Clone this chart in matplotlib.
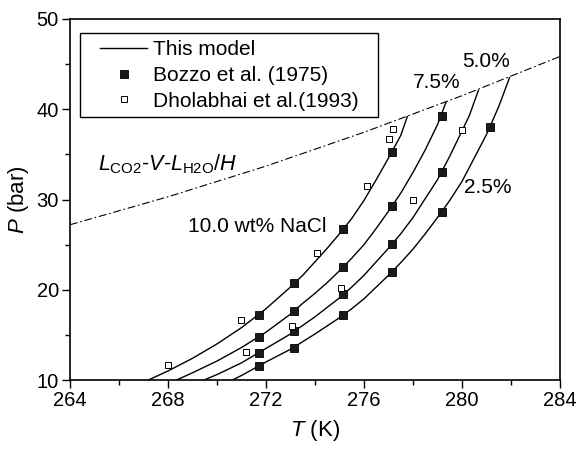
import matplotlib
matplotlib.use("Agg")
import matplotlib.pyplot as plt
from matplotlib.patches import Rectangle

plt.rcParams['font.family'] = ['Liberation Sans', 'DejaVu Sans']
plt.rcParams['mathtext.fontset'] = 'custom'
plt.rcParams['mathtext.it'] = 'Liberation Sans:italic'
plt.rcParams['mathtext.rm'] = 'Liberation Sans'

# model curves (T in K, P in bar)
t_10 = [267.2, 268, 269, 270, 271, 272, 273, 273.5, 274, 274.5, 275, 275.5, 276, 276.5, 277, 277.5, 277.77]
p_10 = [10.0, 11.0, 12.4, 14.0, 15.8, 17.9, 20.3, 21.6, 23.1, 24.6, 26.2, 27.9, 29.9, 32.2, 34.6, 37.1, 39.2]
t_75 = [268.35, 269, 270, 271, 272, 273, 273.5, 274, 274.5, 275, 275.5, 276, 276.5, 277, 277.5, 278, 278.5, 279, 279.35]
p_75 = [10.0, 10.8, 12.1, 13.6, 15.3, 17.3, 18.5, 19.6, 20.8, 22.1, 23.5, 25.0, 26.8, 28.7, 30.7, 33.0, 35.5, 38.3, 40.8]
t_50 = [269.47, 270, 271, 272, 273, 274, 274.5, 275, 275.5, 276, 276.5, 277, 277.5, 278, 278.5, 279, 279.5, 280, 280.3, 280.67]
p_50 = [10.0, 10.6, 11.9, 13.5, 15.1, 17.0, 18.05, 19.1, 20.3, 21.6, 23.1, 24.6, 26.2, 28.0, 30.1, 32.2, 34.8, 37.6, 39.3, 42.1]
t_25 = [270.63, 271, 272, 273, 274, 275, 275.5, 276, 276.5, 277, 277.5, 278, 278.5, 279, 279.5, 280, 280.5, 281, 281.5, 281.94]
p_25 = [10.0, 10.5, 12.0, 13.4, 15.1, 16.9, 17.9, 19.0, 20.3, 21.6, 23.0, 24.5, 26.2, 28.0, 29.9, 32.0, 34.6, 37.2, 40.3, 43.5]

# three-phase boundary
t_lvh = [264, 268, 272, 276, 280, 284]
p_lvh = [27.2, 30.3, 33.7, 37.45, 41.5, 45.85]

# Bozzo et al. (1975)
t_bozzo = [271.7, 273.15, 275.16, 277.16,
           271.7, 273.15, 275.16, 277.16, 279.17,
           271.7, 273.15, 275.16, 277.16, 279.17,
           271.7, 273.15, 275.16, 277.16, 279.17, 281.14]
p_bozzo = [17.2, 20.7, 26.7, 35.3,
           14.8, 17.7, 22.5, 29.3, 39.3,
           13.0, 15.4, 19.5, 25.1, 33.0,
           11.6, 13.6, 17.2, 22.0, 28.6, 38.0]

# Dholabhai et al. (1993)
t_dhol = [268.0, 271.0, 271.18, 273.06, 274.07, 275.05, 276.11, 277.03, 277.2, 277.99, 279.99]
p_dhol = [11.7, 16.6, 13.1, 16.0, 24.1, 20.2, 31.5, 36.7, 37.8, 30.0, 37.7]

fig = plt.figure(figsize=(5.79, 4.5), dpi=100)
ax = fig.add_axes([70 / 579, 1 - 380 / 450, 490 / 579, 361 / 450])

lw = 1.0
ax.plot(t_10, p_10, color='black', lw=lw, label='This model')
ax.plot(t_75, p_75, color='black', lw=lw)
ax.plot(t_50, p_50, color='black', lw=lw)
ax.plot(t_25, p_25, color='black', lw=lw)
ax.plot(t_lvh, p_lvh, color='black', lw=0.8, linestyle=(0, (7, 2.5, 1.5, 2.5)))
ax.plot(t_bozzo, p_bozzo, 's', color='black', ms=5.8, mfc='#1a1a1a', mew=0.6,
        label='Bozzo et al. (1975)')
ax.plot(t_dhol, p_dhol, 's', color='black', ms=4.8, mfc='white', mew=0.7,
        label='Dholabhai et al.(1993)')

ax.set_xlim(264, 284)
ax.set_ylim(10, 50)
ax.set_xticks([264, 268, 272, 276, 280, 284])
ax.set_xticks([266, 270, 274, 278, 282], minor=True)
ax.set_yticks([10, 20, 30, 40, 50])
ax.set_yticks([15, 25, 35, 45], minor=True)
ax.tick_params(which='major', direction='out', length=6, width=1.0, labelsize=14.5, pad=2)
ax.tick_params(which='minor', direction='out', length=3.5, width=1.0)
for s in ax.spines.values():
    s.set_linewidth(1.2)

ax.set_xlabel('$T$ (K)', fontsize=16, labelpad=6)
ax.set_ylabel('$P$ (bar)', fontsize=16, labelpad=4)

ax.text(265.14, 33.9, r'$L_{\mathrm{CO2}}$-$V$-$L_{\mathrm{H2O}}$/$H$', fontsize=15.5,
        va='center', ha='left')
ax.text(268.82, 27.0, '10.0 wt% NaCl', fontsize=15, va='center', ha='left')
ax.text(281.06, 31.3, '2.5%', fontsize=15, va='center', ha='center')
ax.text(281.0, 45.26, '5.0%', fontsize=15, va='center', ha='center')
ax.text(278.97, 42.96, '7.5%', fontsize=15, va='center', ha='center')

# legend frame drawn separately (wider side padding than top padding)
ax.add_patch(Rectangle((0.0204, 0.7285), 0.6082, 0.2327, transform=ax.transAxes,
                       fill=False, edgecolor='black', lw=1.0, zorder=5))
leg = ax.legend(loc='upper left', bbox_to_anchor=(0.0612, 0.942), borderaxespad=0,
                fontsize=15, frameon=False, handlelength=2.26, handletextpad=0.3,
                labelspacing=0.33, borderpad=0, numpoints=1)

fig.savefig('out.png', dpi=100)
